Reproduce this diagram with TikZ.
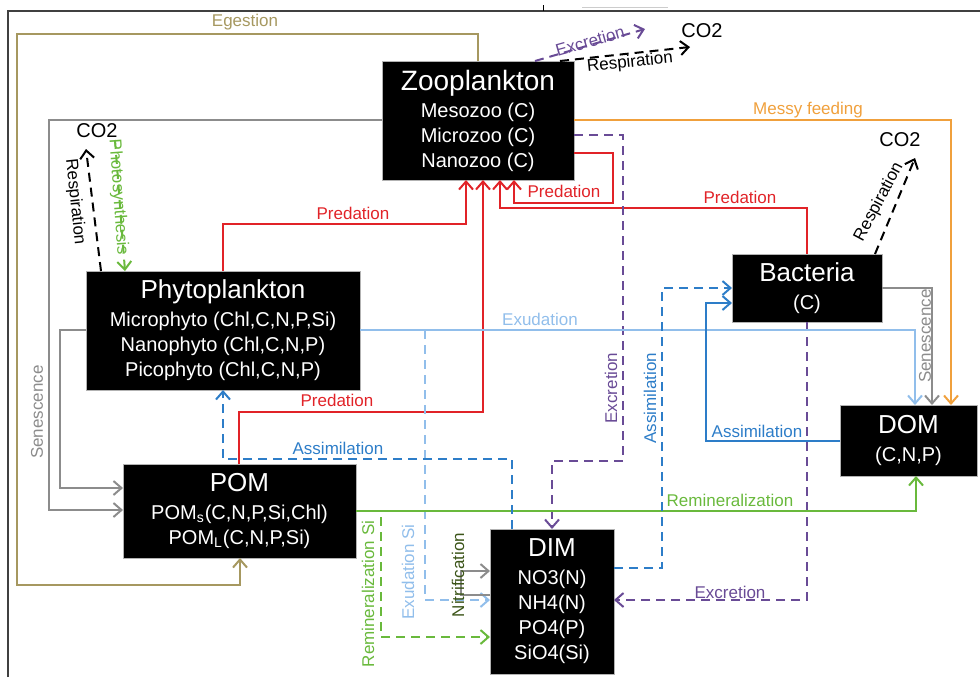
\documentclass[tikz,border=0pt]{standalone}
\usepackage{fontspec}
\setmainfont{Liberation Sans}
\usetikzlibrary{arrows.meta}

\definecolor{egest}{RGB}{166,152,96}
\definecolor{senes}{RGB}{140,140,140}
\definecolor{pred}{RGB}{225,35,40}
\definecolor{messy}{RGB}{240,160,60}
\definecolor{excr}{RGB}{105,75,150}
\definecolor{exud}{RGB}{145,190,235}
\definecolor{assim}{RGB}{45,125,200}
\definecolor{remin}{RGB}{105,185,60}
\definecolor{nitri}{RGB}{60,85,25}

\newcommand{\boxtitle}{\fontsize{13}{15}\selectfont}

\tikzset{
  box/.style={fill=black, draw=gray!60, line width=0.4pt, text=white, align=center,
    inner sep=0pt, outer sep=0pt, font=\fontsize{10}{12.5}\selectfont},
  flow/.style={line width=1pt, -{Straight Barb[length=4pt,width=7pt]}},
  dashedflow/.style={flow, dash pattern=on 4.5pt off 3pt},
  lbl/.style={inner sep=0pt, font=\fontsize{8.5}{10}\selectfont},
  co2/.style={inner sep=0pt, font=\fontsize{10}{12}\selectfont}
}

\begin{document}
\begin{tikzpicture}[x=0.5pt,y=-0.5pt]
\useasboundingbox (0,0) rectangle (980,677);

\draw[line width=0.7pt, black!75] (8,677) -- (8,11) -- (980,11);
\draw[line width=0.5pt, black] (543,5) -- (543,11);
\draw[line width=0.5pt, gray!40] (582,7) -- (668,7);

\node[box, minimum width=96pt, minimum height=59.5pt] (zoo) at (478,120.5)
  {{\fontsize{14}{15}\selectfont Zooplankton}\\[1pt]Mesozoo (C)\\Microzoo (C)\\Nanozoo (C)};
\node[box, minimum width=137pt, minimum height=59.5pt] (phyto) at (223,330.5)
  {{\boxtitle Phytoplankton}\\[1.5pt]Microphyto (Chl,C,N,P,Si)\\Nanophyto (Chl,C,N,P)\\Picophyto (Chl,C,N,P)};
\node[box, minimum width=116.5pt, minimum height=47pt] (pom) at (239.5,511)
  {{\boxtitle POM}\\[1.5pt]POM\textsubscript{s}(C,N,P,Si,Chl)\\POM\textsubscript{L}(C,N,P,Si)};
\node[box, minimum width=62pt, minimum height=72.5pt] (dim) at (552,601.5)
  {{\boxtitle DIM}\\[1.5pt]NO3(N)\\NH4(N)\\PO4(P)\\SiO4(Si)};
\node[box, minimum width=68.5pt, minimum height=35.5pt] (dom) at (908.5,440.5)
  {{\boxtitle DOM}\\[1.5pt](C,N,P)};
\node[box, minimum width=75pt, minimum height=34pt] (bact) at (807,288)
  {{\boxtitle Bacteria}\\[1.5pt](C)};

\node[co2] (co2a) at (97,131) {CO2};
\node[co2] (co2b) at (702,31) {CO2};
\node[co2] (co2c) at (900,140) {CO2};

\coordinate (co2atip) at (86,149);
\coordinate (photostart) at (115,140);
\coordinate (co2btip) at (690,47);
\coordinate (exctip) at (645,29);
\coordinate (co2ctip) at (915,158);
\coordinate (exsi) at (425,330);
\coordinate (remsi) at (381,517);

\draw[flow, egest] (478,0 |- zoo.north) -- (478,34) -- (17,34) -- (17,585) -- (240,585) -- (240,0 |- pom.south);
\draw[flow, senes] (zoo.west |- 0,120) -- (49,120) -- (49,510) -- (pom.west |- 0,510);
\draw[flow, senes] (phyto.west |- 0,330) -- (60,330) -- (60,488) -- (pom.west |- 0,488);
\draw[dashedflow, black] (101,0 |- phyto.north) -- (co2atip);
\draw[dashedflow, remin] (photostart) -- (125,0 |- phyto.north);

\draw[flow, pred] (223,0 |- phyto.north) -- (223,224) -- (466,224) -- (466,0 |- zoo.south);
\draw[flow, pred] (239,0 |- pom.north) -- (239,412) -- (483,412) -- (483,0 |- zoo.south);
\draw[flow, pred] (807,0 |- bact.north) -- (807,208) -- (500,208) -- (500,0 |- zoo.south);
\draw[flow, pred] (zoo.east |- 0,153) -- (613,153) -- (613,203) -- (514,203) -- (514,0 |- zoo.south);

\draw[flow, messy] (zoo.east |- 0,120) -- (951,120) -- (951,0 |- dom.north);

\draw[dashedflow, excr] (zoo.east |- 0,135) -- (623,135) -- (623,461) -- (552,461) -- (552,0 |- dim.north);
\draw[dashedflow, excr] (bact.south) -- (807,600) -- (dim.east |- 0,600);
\draw[dashedflow, excr] (535,0 |- zoo.north) -- (exctip);
\draw[dashedflow, black] (560,0 |- zoo.north) -- (co2btip);

\draw[flow, exud] (phyto.east |- 0,330) -- (915,330) -- (915,0 |- dom.north);
\draw[dashedflow, exud] (exsi) -- (425,600) -- (dim.west |- 0,600);
\draw[flow, senes] (dim.west |- 0,595) -- (461,595) -- (461,571) -- (dim.west |- 0,571);

\draw[flow, remin] (pom.east |- 0,511) -- (916,511) -- (916,0 |- dom.south);
\draw[dashedflow, remin] (remsi) -- (381,637) -- (dim.west |- 0,637);

\draw[dashedflow, assim] (512,0 |- dim.north) -- (512,459) -- (223,459) -- (223,0 |- phyto.south);
\draw[dashedflow, assim] (dim.east |- 0,568) -- (662,568) -- (662,288) -- (bact.west |- 0,288);
\draw[flow, assim] (dom.west |- 0,441) -- (706,441) -- (706,303) -- (bact.west |- 0,303);

\draw[flow, senes] (bact.east |- 0,288) -- (932,288) -- (932,0 |- dom.north);
\draw[dashedflow, black] (875,0 |- bact.north) -- (co2ctip);

\node[lbl, text=egest] (egestlbl) at (245,22) {Egestion};
\node[lbl, text=senes, rotate=90] (senlbla) at (37,412) {Senescence};
\node[lbl, text=black, rotate=-84] (resplbla) at (75,202) {Respiration};
\node[lbl, text=remin, rotate=-86] (photolbl) at (118,197) {Photosynthesis};
\node[lbl, text=pred] (predlbla) at (353,213) {Predation};
\node[lbl, text=pred] (predlblb) at (337,400) {Predation};
\node[lbl, text=pred] (predlblc) at (740,197) {Predation};
\node[lbl, text=pred] (predlbld) at (564,191) {Predation};
\node[lbl, text=messy] (messylbl) at (808,110) {Messy feeding};
\node[lbl, text=excr, rotate=90] (excrlbla) at (611,388) {Excretion};
\node[lbl, text=excr] (excrlblb) at (730,592) {Excretion};
\node[lbl, text=excr, rotate=16] (excrlblc) at (590,41) {Excretion};
\node[lbl, text=black, rotate=6] (resplblb) at (630,63) {Respiration};
\node[lbl, text=exud] (exudlbl) at (540,319) {Exudation};
\node[lbl, text=exud, rotate=90] (exsilbl) at (408,572) {Exudation Si};
\node[lbl, text=nitri, rotate=90] (nitrilbl) at (458,575) {Nitrification};
\node[lbl, text=remin] (reminlbl) at (730,500) {Remineralization};
\node[lbl, text=remin, rotate=90] (remsilbl) at (368,594) {Remineralization Si};
\node[lbl, text=assim] (assimlbla) at (338,448) {Assimilation};
\node[lbl, text=assim, rotate=90] (assimlblb) at (650,398) {Assimilation};
\node[lbl, text=assim] (assimlblc) at (757,431) {Assimilation};
\node[lbl, text=senes, rotate=90] (senlblb) at (925,336) {Senescence};
\node[lbl, text=black, rotate=62] (resplblc) at (879,202) {Respiration};

\end{tikzpicture}
\end{document}
